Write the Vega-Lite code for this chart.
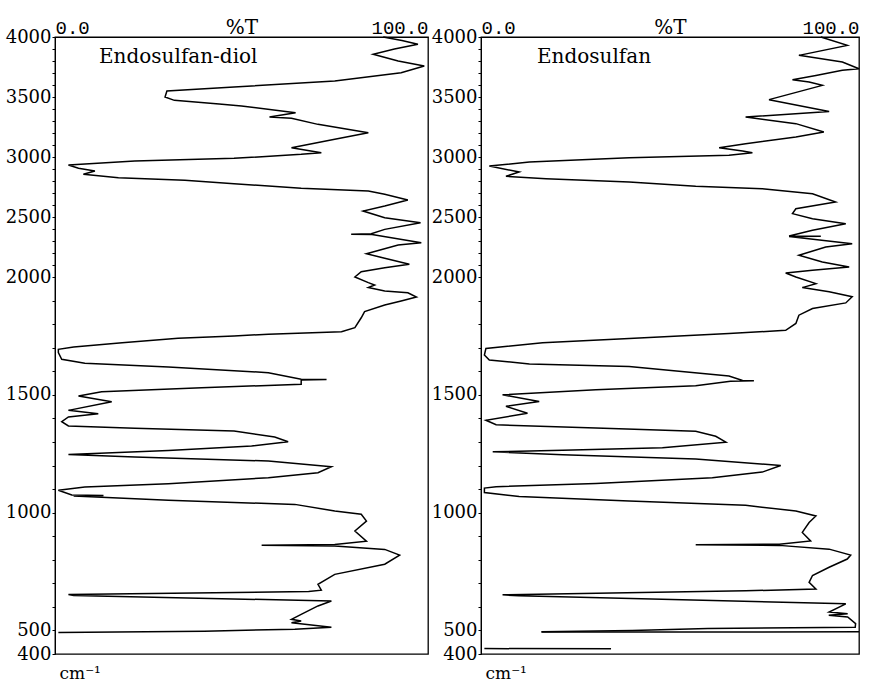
{
  "$schema": "https://vega.github.io/schema/vega-lite/v6.json",
  "background": "white",
  "padding": {"left": 4, "top": 16, "right": 5, "bottom": 5},
  "spacing": 1,
  "config": {
    "view": {"stroke": "black", "strokeWidth": 1.3},
    "axis": {"grid": false, "domainColor": "black", "tickColor": "black", "labelColor": "black", "titleColor": "black"}
  },
  "datasets": {
    "diol": [
      {"wn":4000,"T":88},{"wn":3970,"T":93},{"wn":3939,"T":97.3},{"wn":3900,"T":91},{"wn":3856,"T":85.3},{"wn":3800,"T":92},{"wn":3758,"T":99},{"wn":3702,"T":92.8},{"wn":3633,"T":75},{"wn":3583,"T":48},{"wn":3550,"T":30},{"wn":3500,"T":29.5},{"wn":3472,"T":32},{"wn":3442,"T":44},{"wn":3425,"T":50},{"wn":3369,"T":64.5},{"wn":3333,"T":57.5},{"wn":3322,"T":63.4},{"wn":3272,"T":70.5},{"wn":3203,"T":84},{"wn":3147,"T":75},{"wn":3078,"T":63.4},{"wn":3036,"T":71.4},{"wn":3022,"T":66},{"wn":2989,"T":48},{"wn":2967,"T":21.4},{"wn":2933,"T":3.6},{"wn":2906,"T":6.3},{"wn":2883,"T":10.7},{"wn":2856,"T":7.6},{"wn":2828,"T":17},{"wn":2806,"T":34.8},{"wn":2778,"T":48},{"wn":2739,"T":66},{"wn":2717,"T":84},{"wn":2689,"T":88.4},{"wn":2642,"T":94.6},{"wn":2592,"T":88.4},{"wn":2550,"T":82.6},{"wn":2494,"T":88.4},{"wn":2453,"T":98},{"wn":2397,"T":88.4},{"wn":2360,"T":84.8},{"wn":2357,"T":79.4},{"wn":2354,"T":85},{"wn":2286,"T":98.2},{"wn":2267,"T":92},{"wn":2194,"T":83.5},{"wn":2156,"T":88.4},{"wn":2106,"T":95},{"wn":2078,"T":88.4},{"wn":2044,"T":82.1},{"wn":2000,"T":80.4},{"wn":1976,"T":84},{"wn":1966,"T":85.7},{"wn":1955,"T":84},{"wn":1941,"T":88.4},{"wn":1933,"T":94.6},{"wn":1915,"T":96.9},{"wn":1898,"T":92.8},{"wn":1881,"T":88.4},{"wn":1853,"T":83},{"wn":1827,"T":82.1},{"wn":1785,"T":80.4},{"wn":1768,"T":76.8},{"wn":1757,"T":57.2},{"wn":1750,"T":48},{"wn":1740,"T":33},{"wn":1721,"T":18},{"wn":1703,"T":5},{"wn":1693,"T":0.9},{"wn":1679,"T":0.9},{"wn":1651,"T":1.8},{"wn":1634,"T":8},{"wn":1618,"T":30.4},{"wn":1594,"T":57.2},{"wn":1566,"T":66},{"wn":1565,"T":72.8},{"wn":1563,"T":66},{"wn":1545,"T":66},{"wn":1530,"T":39.3},{"wn":1513,"T":12.5},{"wn":1495,"T":6.3},{"wn":1471,"T":15.2},{"wn":1434,"T":3.6},{"wn":1420,"T":11.6},{"wn":1406,"T":3.6},{"wn":1386,"T":1.8},{"wn":1368,"T":3.6},{"wn":1358,"T":21.4},{"wn":1346,"T":48},{"wn":1321,"T":58.9},{"wn":1301,"T":62.5},{"wn":1283,"T":52.7},{"wn":1264,"T":30.4},{"wn":1247,"T":3.6},{"wn":1236,"T":21.4},{"wn":1219,"T":57.2},{"wn":1195,"T":74.1},{"wn":1169,"T":70.5},{"wn":1148,"T":57.2},{"wn":1123,"T":30.4},{"wn":1109,"T":8},{"wn":1095,"T":0.9},{"wn":1075,"T":4.5},{"wn":1073,"T":13},{"wn":1071,"T":5},{"wn":1052,"T":30.4},{"wn":1035,"T":64.3},{"wn":1007,"T":75},{"wn":993,"T":82.1},{"wn":964,"T":83.5},{"wn":922,"T":80.4},{"wn":879,"T":83.5},{"wn":865,"T":75},{"wn":862,"T":55.4},{"wn":858,"T":75},{"wn":844,"T":88.4},{"wn":820,"T":92.4},{"wn":781,"T":88.4},{"wn":738,"T":75},{"wn":696,"T":70.5},{"wn":671,"T":71.4},{"wn":665,"T":68},{"wn":652,"T":3.6},{"wn":648,"T":5},{"wn":625,"T":74.1},{"wn":604,"T":70.5},{"wn":568,"T":66},{"wn":547,"T":63.4},{"wn":540,"T":66},{"wn":533,"T":63.4},{"wn":514,"T":74.1},{"wn":505,"T":64.3},{"wn":497,"T":40},{"wn":491,"T":0.9}
    ],
    "endo": [
      {"wn":4000,"T":89.9,"seg":1},{"wn":3930,"T":96.9,"seg":1},{"wn":3847,"T":84.1,"seg":1},{"wn":3792,"T":95.6,"seg":1},{"wn":3736,"T":100,"seg":1},{"wn":3722,"T":95.6,"seg":1},{"wn":3680,"T":88.6,"seg":1},{"wn":3644,"T":82.4,"seg":1},{"wn":3625,"T":86.8,"seg":1},{"wn":3597,"T":90.3,"seg":1},{"wn":3478,"T":76.2,"seg":1},{"wn":3380,"T":92.1,"seg":1},{"wn":3333,"T":70,"seg":1},{"wn":3278,"T":83.3,"seg":1},{"wn":3208,"T":90.7,"seg":1},{"wn":3167,"T":83.3,"seg":1},{"wn":3111,"T":70,"seg":1},{"wn":3078,"T":63,"seg":1},{"wn":3050,"T":69.2,"seg":1},{"wn":3036,"T":71.8,"seg":1},{"wn":3014,"T":65.6,"seg":1},{"wn":2994,"T":39.2,"seg":1},{"wn":2958,"T":12.8,"seg":1},{"wn":2925,"T":2.2,"seg":1},{"wn":2875,"T":10.1,"seg":1},{"wn":2839,"T":6.6,"seg":1},{"wn":2819,"T":17.2,"seg":1},{"wn":2792,"T":39.2,"seg":1},{"wn":2756,"T":56.8,"seg":1},{"wn":2736,"T":74.4,"seg":1},{"wn":2694,"T":87.7,"seg":1},{"wn":2625,"T":93.8,"seg":1},{"wn":2569,"T":83.3,"seg":1},{"wn":2528,"T":82.4,"seg":1},{"wn":2486,"T":87.7,"seg":1},{"wn":2444,"T":96.5,"seg":1},{"wn":2389,"T":87.7,"seg":1},{"wn":2341,"T":81.5,"seg":1},{"wn":2340,"T":89.9,"seg":1},{"wn":2338,"T":81.5,"seg":1},{"wn":2278,"T":98.2,"seg":1},{"wn":2250,"T":91.2,"seg":1},{"wn":2181,"T":84.1,"seg":1},{"wn":2125,"T":90.3,"seg":1},{"wn":2083,"T":97.4,"seg":1},{"wn":2056,"T":87.7,"seg":1},{"wn":2033,"T":80.6,"seg":1},{"wn":2000,"T":83.3,"seg":1},{"wn":1972,"T":88.6,"seg":1},{"wn":1955,"T":85,"seg":1},{"wn":1937,"T":92.1,"seg":1},{"wn":1916,"T":98.2,"seg":1},{"wn":1890,"T":96.5,"seg":1},{"wn":1866,"T":87.7,"seg":1},{"wn":1838,"T":84.1,"seg":1},{"wn":1803,"T":83.3,"seg":1},{"wn":1774,"T":80.6,"seg":1},{"wn":1760,"T":65.6,"seg":1},{"wn":1739,"T":39.2,"seg":1},{"wn":1721,"T":16.3,"seg":1},{"wn":1697,"T":1.3,"seg":1},{"wn":1669,"T":0.9,"seg":1},{"wn":1648,"T":2.2,"seg":1},{"wn":1631,"T":12.8,"seg":1},{"wn":1620,"T":39.2,"seg":1},{"wn":1580,"T":65.6,"seg":1},{"wn":1561,"T":69.2,"seg":1},{"wn":1560,"T":72.2,"seg":1},{"wn":1558,"T":66,"seg":1},{"wn":1538,"T":56.8,"seg":1},{"wn":1521,"T":30.4,"seg":1},{"wn":1500,"T":5.7,"seg":1},{"wn":1472,"T":15.4,"seg":1},{"wn":1451,"T":6.6,"seg":1},{"wn":1422,"T":12.3,"seg":1},{"wn":1392,"T":1.3,"seg":1},{"wn":1373,"T":4,"seg":1},{"wn":1359,"T":30.4,"seg":1},{"wn":1345,"T":56.8,"seg":1},{"wn":1324,"T":62.1,"seg":1},{"wn":1299,"T":64.8,"seg":1},{"wn":1275,"T":48,"seg":1},{"wn":1265,"T":21.6,"seg":1},{"wn":1258,"T":3.1,"seg":1},{"wn":1246,"T":21.6,"seg":1},{"wn":1228,"T":56.8,"seg":1},{"wn":1200,"T":79.3,"seg":1},{"wn":1172,"T":74.4,"seg":1},{"wn":1148,"T":61.2,"seg":1},{"wn":1124,"T":30.4,"seg":1},{"wn":1110,"T":4,"seg":1},{"wn":1104,"T":0.9,"seg":1},{"wn":1085,"T":0.9,"seg":1},{"wn":1068,"T":10.1,"seg":1},{"wn":1049,"T":39.2,"seg":1},{"wn":1031,"T":70,"seg":1},{"wn":1007,"T":83.3,"seg":1},{"wn":986,"T":88.6,"seg":1},{"wn":958,"T":86.8,"seg":1},{"wn":916,"T":85,"seg":1},{"wn":880,"T":87.2,"seg":1},{"wn":866,"T":78.9,"seg":1},{"wn":864,"T":56.8,"seg":1},{"wn":861,"T":78.9,"seg":1},{"wn":845,"T":92.1,"seg":1},{"wn":820,"T":97.8,"seg":1},{"wn":803,"T":96.9,"seg":1},{"wn":768,"T":92.1,"seg":1},{"wn":733,"T":87.7,"seg":1},{"wn":704,"T":86.8,"seg":1},{"wn":676,"T":88.6,"seg":1},{"wn":668,"T":70,"seg":1},{"wn":651,"T":5.7,"seg":1},{"wn":647,"T":10,"seg":1},{"wn":613,"T":96.5,"seg":1},{"wn":578,"T":92.1,"seg":1},{"wn":571,"T":97,"seg":1},{"wn":564,"T":92,"seg":1},{"wn":557,"T":97,"seg":1},{"wn":529,"T":99.1,"seg":1},{"wn":513,"T":99,"seg":1},{"wn":508,"T":60,"seg":1},{"wn":500,"T":40,"seg":1},{"wn":494,"T":16,"seg":1},
      {"wn":494,"T":100,"seg":2},{"wn":493,"T":16,"seg":2},
      {"wn":423,"T":0.9,"seg":3},{"wn":422,"T":34.4,"seg":3}
    ]
  },
  "hconcat": [
    {
      "width": 373,
      "height": 617,
      "layer": [
        {
          "data": {"name": "diol"},
          "mark": {"type": "line", "color": "black", "strokeWidth": 1.5},
          "encoding": {
            "x": {"field": "T", "type": "quantitative",
              "scale": {"domain": [0, 100], "nice": false, "zero": false},
              "axis": {"orient": "top", "values": [0, 100], "format": ".1f", "labelFont": "Liberation Mono", "labelFontSize": 19, "labelFlush": true, "ticks": false, "tickSize": 0, "labelPadding": 4, "labelBaseline": "alphabetic", "title": "%T", "titleFont": "DejaVu Serif", "titleFontSize": 20, "titleFontWeight": "normal", "titleY": -4, "titleBaseline": "alphabetic"}},
            "y": {"field": "wn", "type": "quantitative",
              "scale": {"domain": [4000, 2000, 400], "range": [0, 240, 617], "nice": false, "zero": false},
              "axis": {"values": [4000,3900,3800,3700,3600,3500,3400,3300,3200,3100,3000,2900,2800,2700,2600,2500,2400,2300,2200,2100,2000,1900,1800,1700,1600,1500,1400,1300,1200,1100,1000,900,800,700,600,500,400], "tickCount": 100, "format": "d", "labelExpr": "datum.value % 500 == 0 || datum.value == 400 ? datum.label : ''", "labelFont": "DejaVu Serif", "labelFontSize": 18, "labelPadding": 1, "tickSize": 3, "labelOverlap": false, "labelBound": false, "title": "cm⁻¹", "titleAngle": 0, "titleAlign": "left", "titleBaseline": "alphabetic", "titleX": 4, "titleY": 641, "titleFont": "DejaVu Serif", "titleFontSize": 17, "titleFontWeight": "normal"}},
            "order": {"field": "wn", "sort": "descending"}
          }
        },
        {
          "data": {"values": [{"label": "Endosulfan-diol"}]},
          "mark": {"type": "text", "font": "DejaVu Serif", "fontSize": 20, "align": "left", "baseline": "alphabetic", "color": "black"},
          "encoding": {
            "x": {"datum": 11.8, "type": "quantitative"},
            "y": {"datum": 3785, "type": "quantitative"},
            "text": {"field": "label"}
          }
        }
      ]
    },
    {
      "width": 378,
      "height": 617,
      "layer": [
        {
          "data": {"name": "endo"},
          "mark": {"type": "line", "color": "black", "strokeWidth": 1.5},
          "encoding": {
            "x": {"field": "T", "type": "quantitative",
              "scale": {"domain": [0, 100], "nice": false, "zero": false},
              "axis": {"orient": "top", "values": [0, 100], "format": ".1f", "labelFont": "Liberation Mono", "labelFontSize": 19, "labelFlush": true, "ticks": false, "tickSize": 0, "labelPadding": 4, "labelBaseline": "alphabetic", "title": "%T", "titleFont": "DejaVu Serif", "titleFontSize": 20, "titleFontWeight": "normal", "titleY": -4, "titleBaseline": "alphabetic"}},
            "y": {"field": "wn", "type": "quantitative",
              "scale": {"domain": [4000, 2000, 400], "range": [0, 240, 617], "nice": false, "zero": false},
              "axis": {"values": [4000,3900,3800,3700,3600,3500,3400,3300,3200,3100,3000,2900,2800,2700,2600,2500,2400,2300,2200,2100,2000,1900,1800,1700,1600,1500,1400,1300,1200,1100,1000,900,800,700,600,500,400], "tickCount": 100, "format": "d", "labelExpr": "datum.value % 500 == 0 || datum.value == 400 ? datum.label : ''", "labelFont": "DejaVu Serif", "labelFontSize": 18, "labelPadding": 1, "tickSize": 3, "labelOverlap": false, "labelBound": false, "title": "cm⁻¹", "titleAngle": 0, "titleAlign": "left", "titleBaseline": "alphabetic", "titleX": 4, "titleY": 641, "titleFont": "DejaVu Serif", "titleFontSize": 17, "titleFontWeight": "normal"}},
            "order": {"field": "wn", "sort": "descending"},
            "detail": {"field": "seg", "type": "nominal"}
          }
        },
        {
          "data": {"values": [{"label": "Endosulfan"}]},
          "mark": {"type": "text", "font": "DejaVu Serif", "fontSize": 20, "align": "left", "baseline": "alphabetic", "color": "black"},
          "encoding": {
            "x": {"datum": 14.8, "type": "quantitative"},
            "y": {"datum": 3780, "type": "quantitative"},
            "text": {"field": "label"}
          }
        }
      ]
    }
  ]
}
